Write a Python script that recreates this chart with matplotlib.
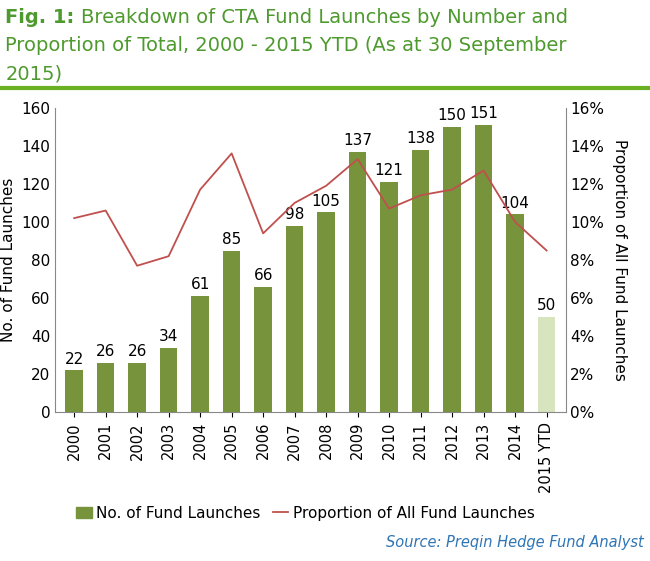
import matplotlib
matplotlib.use("Agg")
import matplotlib.pyplot as plt
from matplotlib.ticker import PercentFormatter

years = ["2000", "2001", "2002", "2003", "2004", "2005", "2006", "2007",
         "2008", "2009", "2010", "2011", "2012", "2013", "2014", "2015 YTD"]
launches = [22, 26, 26, 34, 61, 85, 66, 98, 105, 137, 121, 138, 150, 151, 104, 50]
proportion = [10.2, 10.6, 7.7, 8.2, 11.7, 13.6, 9.4, 11.0, 11.9, 13.3,
              10.7, 11.4, 11.7, 12.7, 10.0, 8.5]

GREEN = "#77933c"
LIGHT = "#d7e4bd"
RED = "#c0504d"
TITLE = "#4e9a2e"

fig = plt.figure(figsize=(6.5, 5.61), dpi=100)
ax = fig.add_axes([0.085, 0.265, 0.785, 0.543])

colors = [GREEN] * (len(years) - 1) + [LIGHT]
x = range(len(years))
bars = ax.bar(x, launches, width=0.55, color=colors)
for xi, v in zip(x, launches):
    ax.text(xi, v + 2, str(v), ha="center", va="bottom", fontsize=11)
ax.set_ylim(0, 160)
ax.set_yticks(range(0, 161, 20))
ax.set_xlim(-0.6, len(years) - 0.4)
ax.set_xticks(list(x))
ax.set_xticklabels(years, rotation=90, fontsize=10.5)
ax.tick_params(axis="y", labelsize=11, length=0)
ax.set_ylabel("No. of Fund Launches", fontsize=11)
for s in ["top", "right"]:
    ax.spines[s].set_visible(False)
ax.spines["left"].set_color("#888888")
ax.spines["bottom"].set_color("#888888")

ax2 = ax.twinx()
ax2.plot(list(x), proportion, color=RED, lw=1.3)
ax2.set_ylim(0, 16)
ax2.set_yticks(range(0, 17, 2))
ax2.yaxis.set_major_formatter(PercentFormatter(decimals=0))
ax2.tick_params(axis="y", labelsize=11, length=0)
ax2.set_ylabel("Proportion of All Fund Launches", fontsize=11, rotation=270, labelpad=16)
for s in ["top", "left", "bottom"]:
    ax2.spines[s].set_visible(False)
ax2.spines["right"].set_color("#888888")

handles = [plt.Rectangle((0, 0), 1, 1, color=GREEN),
           plt.Line2D([], [], color=RED, lw=1.3)]
fig.legend(handles, ["No. of Fund Launches", "Proportion of All Fund Launches"],
           loc="center", bbox_to_anchor=(0.47, 0.085), ncol=2, frameon=False,
           fontsize=11, handlelength=1.0, columnspacing=0.8, handletextpad=0.3)

fig.text(0.008, 0.985, "Fig. 1:", fontsize=14, color=TITLE, weight="bold", va="top")
fig.text(0.125, 0.985, "Breakdown of CTA Fund Launches by Number and",
         fontsize=14, color=TITLE, va="top")
fig.text(0.008, 0.935, "Proportion of Total, 2000 - 2015 YTD (As at 30 September",
         fontsize=14, color=TITLE, va="top")
fig.text(0.008, 0.885, "2015)", fontsize=14, color=TITLE, va="top")
fig.add_artist(plt.Line2D([0.0, 1.0], [0.843, 0.843], color="#6ab023", lw=3))

fig.text(0.99, 0.025, "Source: Preqin Hedge Fund Analyst", fontsize=10.5,
         color="#2e75b6", style="italic", ha="right")

fig.savefig("out.png", dpi=100)
